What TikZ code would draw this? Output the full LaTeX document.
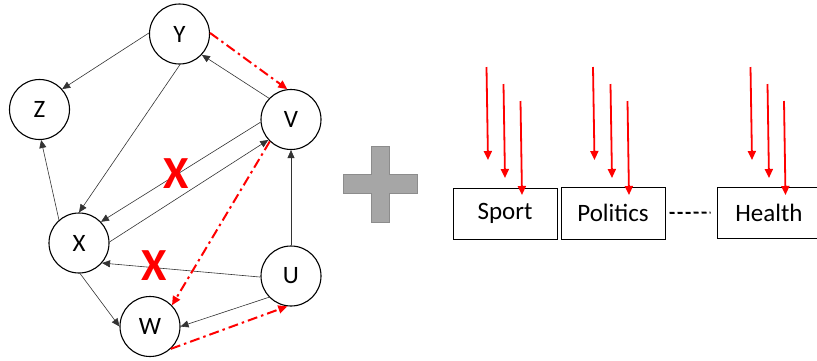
\documentclass[tikz,border=0pt]{standalone}
\usepackage{fontspec}
\setmainfont{Carlito}
\usetikzlibrary{arrows.meta}
\begin{document}
\begin{tikzpicture}[x=1pt,y=-1pt,
  vert/.style={circle,draw,line width=1.1pt,minimum size=60pt,inner sep=0pt,font=\fontsize{25}{28}\selectfont},
  edge/.style={line width=0.6pt,draw=black!80,-{Triangle[length=8pt,width=7pt]}},
  redge/.style={draw=red,line width=2pt,dash pattern=on 10pt off 4pt on 2.5pt off 4pt,-{Triangle[length=9pt,width=8pt]}},
  rarrow/.style={draw=red,line width=1.8pt,-{Triangle[length=9pt,width=8pt]}},
  catbox/.style={draw,line width=1pt,minimum width=104pt,minimum height=51pt,inner sep=0pt,font=\fontsize{25}{28}\selectfont},
  cross/.style={text=red,font=\fontsize{46}{48}\selectfont\bfseries,inner sep=0pt},
  plus/.style={fill=black!35,draw=black!45,line width=1pt}]
\useasboundingbox (0,0) rectangle (817,360);
\clip (0,0) rectangle (817,360);
% vertices
\node[vert] (Y) at (179.5,34) {Y};
\node[vert] (Z) at (39.5,109.5) {Z};
\node[vert] (V) at (291,119.5) {V};
\node[vert] (X) at (79,243) {X};
\node[vert] (U) at (291,276) {U};
\node[vert] (W) at (150,326.5) {W};
% black edges
\draw[edge] (Y.178) -- (Z.42);
\draw[edge] (Y.-89) -- (X.90);
\draw[edge] (V.136) -- (Y.-43);
\draw[edge] (V.185) -- (X.44);
\draw[edge] (X.2) -- (V.222);
\draw[edge] (X.131) -- (Z.-87);
\draw[edge] (U.90) -- (V.-90);
\draw[edge] (U.182) -- (X.-41);
\draw[edge] (X.-88) -- (W.180);
\draw[edge] (U.-136) -- (W.0);
% red dash-dot edges
\draw[redge] (Y.2) -- (V.97);
\draw[redge] (V.226) -- (W.44);
\draw[redge] (W.-47) -- (U.-97);
% crosses
\node[cross] (c1) at (176,174) {X};
\node[cross] (c2) at (154,266) {X};
% plus sign
\draw[plus] (343,174) -- (371,174) -- (371,146) -- (389,146) -- (389,174) -- (417,174) -- (417,193) -- (389,193) -- (389,222) -- (371,222) -- (371,193) -- (343,193) -- cycle;
% category boxes
\node[catbox] (sport) at (505,213.5) {Sport};
\node[catbox,minimum height=52pt] (pol) at (613,213) {Politics};
\node[catbox] (hea) at (769,212.5) {Health};
\draw[line width=2pt,dash pattern=on 5pt off 3pt,shorten <=4pt,shorten >=6pt] (pol.east) -- (hea.west);
% red arrows
\coordinate (s1a) at (486.5,67);  \coordinate (s1b) at (488,160);
\coordinate (s2a) at (503.5,84);  \coordinate (s2b) at (505,178);
\coordinate (s3a) at (520.5,101); \coordinate (s3b) at (522,195);
\coordinate (p1a) at (593,67);    \coordinate (p1b) at (594.5,160);
\coordinate (p2a) at (610.5,84);  \coordinate (p2b) at (612,178);
\coordinate (p3a) at (627.5,101); \coordinate (p3b) at (629,195);
\coordinate (h1a) at (750.5,67);  \coordinate (h1b) at (752,160);
\coordinate (h2a) at (767.5,84);  \coordinate (h2b) at (769,178);
\coordinate (h3a) at (784,101);   \coordinate (h3b) at (785.5,195);
\foreach \g in {s,p,h}{
  \foreach \i in {1,2,3}{
    \draw[rarrow] (\g\i a) -- (\g\i b);
  }
}
\end{tikzpicture}
\end{document}
